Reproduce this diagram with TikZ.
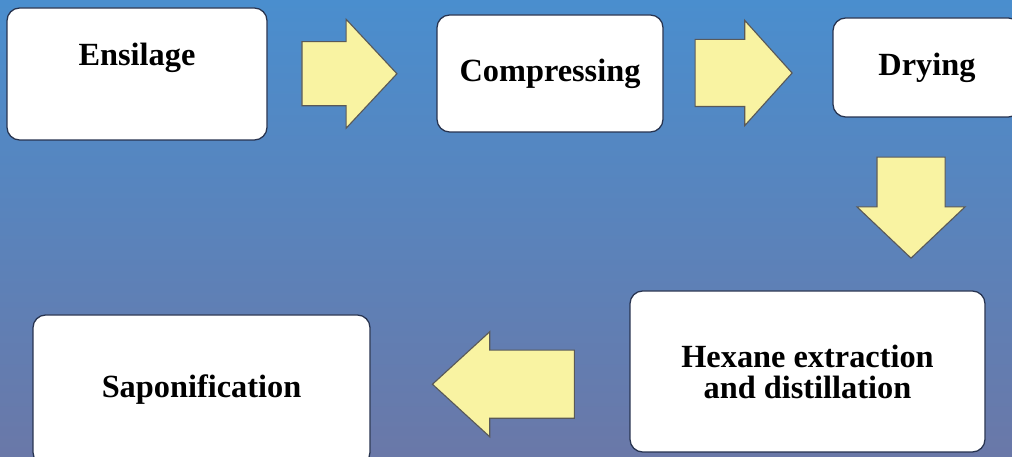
\documentclass[tikz,border=0pt]{standalone}
\usepackage{fontspec}
\setmainfont{Liberation Serif}
\usetikzlibrary{shapes.arrows,calc}

\definecolor{slidetop}{RGB}{74,142,206}
\definecolor{slidebot}{RGB}{106,120,168}
\definecolor{arrowfill}{RGB}{249,243,162}
\definecolor{boxline}{RGB}{40,52,80}

\begin{document}
\begin{tikzpicture}[
    x=0.025cm, y=-0.025cm,
    font=\fontsize{23}{22}\selectfont\bfseries,
    box/.style={draw=boxline, line width=0.9pt, fill=white,
                rounded corners=9pt, align=center, inner sep=0pt},
    flow/.style={single arrow, draw=black!65, line width=0.8pt,
                 fill=arrowfill, inner xsep=0pt},
  ]
  \def\pu{0.025cm}

  % --- slide background ---
  \useasboundingbox (0,0) rectangle (1012,457);
  \clip (0,0) rectangle (1012,457);
  \shade[top color=slidetop, bottom color=slidebot] (0,0) rectangle (1012,457);

  % --- top row ---
  \node[box, minimum width=260*\pu, minimum height=132*\pu, text depth=0.97cm]
    (ensilage) at (137,74) {Ensilage};
  \node[box, minimum width=226*\pu, minimum height=117*\pu]
    (compressing) at (550,73.5) {Compressing};
  \node[box, minimum width=188*\pu, minimum height=99*\pu]
    (drying) at (927,67.5) {Drying};

  % --- bottom row ---
  \node[box, minimum width=355*\pu, minimum height=161*\pu]
    (hexane) at (807.5,371.5) {Hexane extraction\\and distillation};
  \node[box, minimum width=337*\pu, minimum height=150*\pu]
    (saponification) at (201.5,390) {Saponification};

  % --- block arrows between the steps (inner ysep = half shaft) ---
  \node[flow, minimum height=95*\pu, inner ysep=31.5*\pu,
        single arrow head extend=22.5*\pu, single arrow tip angle=94]
    (ensToComp) at ($(ensilage.east)!0.5!(compressing.west)+(-17.5,0)$) {};
  \node[flow, minimum height=97*\pu, inner ysep=33*\pu,
        single arrow head extend=19*\pu, single arrow tip angle=96]
    (compToDry) at ($(compressing.east)!0.5!(drying.west)+(-19.5,2.5)$) {};
  \node[flow, rotate=-90, minimum height=101*\pu, inner ysep=33.5*\pu,
        single arrow head extend=20*\pu, single arrow tip angle=93]
    (dryToHex) at ($(drying.south)!0.5!(drying.south |- hexane.north)+(-16,-12.5)$) {};
  \node[flow, rotate=180, minimum height=142*\pu, inner ysep=33.5*\pu,
        single arrow head extend=18.5*\pu, single arrow tip angle=85]
    (hexToSap) at ($(hexane.west)!0.5!(saponification.east)+(22,3.5)$) {};
\end{tikzpicture}
\end{document}
